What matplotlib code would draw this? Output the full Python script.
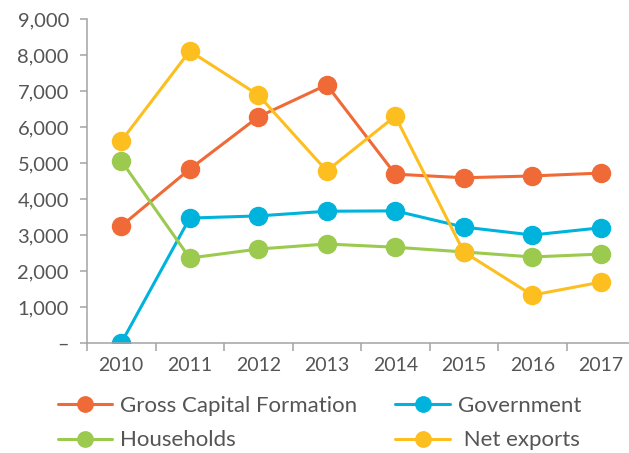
import matplotlib.pyplot as plt
from matplotlib.ticker import FuncFormatter, FixedLocator

years = ['2010', '2011', '2012', '2013', '2014', '2015', '2016', '2017']
gross_capital = [3250, 4830, 6280, 7170, 4690, 4590, 4640, 4720]
government = [0, 3470, 3530, 3660, 3670, 3220, 3000, 3200]
households = [5060, 2360, 2610, 2750, 2660, 2530, 2390, 2470]
net_exports = [5610, 8110, 6890, 4780, 6300, 2530, 1330, 1690]

c_gcf = '#EF6A37'
c_gov = '#00B3DC'
c_hh = '#9BCA4F'
c_nx = '#FDBF1F'
grey = '#A3A3A3'
text_grey = '#555555'

plt.rcParams['font.family'] = ['Lato', 'DejaVu Sans']

fig = plt.figure(figsize=(6.29, 4.53), dpi=100)
ax = fig.add_axes([87/629, 110/453, 548/629, 324/453])

x = list(range(len(years)))
kw = dict(lw=2.2, marker='o', ms=13, solid_capstyle='round')
l_gcf, = ax.plot(x, gross_capital, color=c_gcf, label='Gross Capital Formation', **kw)
l_gov, = ax.plot(x, government, color=c_gov, label='Government', **kw)
l_hh, = ax.plot(x, households, color=c_hh, label='Households', **kw)
l_nx, = ax.plot(x, net_exports, color=c_nx, label=' Net exports', **kw)

ax.set_xlim(-0.5, len(years) - 0.5)
ax.set_ylim(0, 9000)
ax.set_yticks(range(0, 9001, 1000))
ax.yaxis.set_major_formatter(FuncFormatter(lambda v, p: '–' if v == 0 else f'{int(v):,}'))
ax.set_xticks(x)
ax.set_xticklabels(years)
ax.xaxis.set_minor_locator(FixedLocator([i - 0.5 for i in range(len(years) + 1)]))

for s in ['top', 'right']:
    ax.spines[s].set_visible(False)
for s in ['left', 'bottom']:
    ax.spines[s].set_color(grey)
    ax.spines[s].set_linewidth(1.1)

ax.tick_params(axis='x', which='major', length=0, pad=10, labelsize=14, labelcolor=text_grey)
ax.tick_params(axis='x', which='minor', length=6, width=1.1, color=grey)
ax.tick_params(axis='y', length=5, width=1.1, color=grey, pad=8, labelsize=14.5, labelcolor=text_grey)

leg = fig.legend([l_gcf, l_hh, l_gov, l_nx],
                 ['Gross Capital Formation', 'Households', 'Government', ' Net exports'],
                 loc='upper left', bbox_to_anchor=(58/629, 1 - 396/453), ncol=2,
                 frameon=False, fontsize=16, handlelength=2.45, handletextpad=0.36,
                 columnspacing=1.7, labelspacing=0.65, markerscale=0.85,
                 labelcolor=text_grey, borderaxespad=0, borderpad=0)

fig.savefig('out.png', dpi=100)
